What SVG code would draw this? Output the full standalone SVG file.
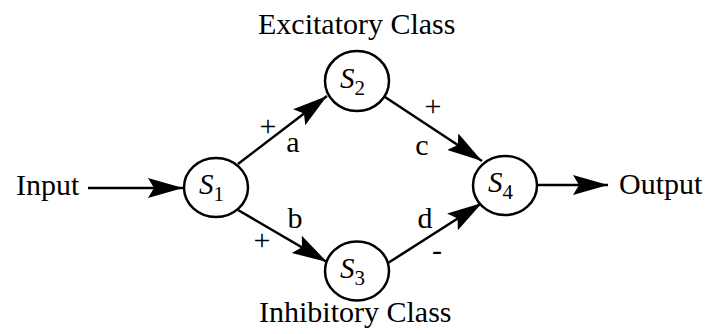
<svg xmlns="http://www.w3.org/2000/svg" width="711" height="334" viewBox="0 0 711 334">
<style>
.t{font-family:"Liberation Serif","Times New Roman",serif;font-size:30px;fill:#000}
.s{font-family:"Liberation Serif","Times New Roman",serif;font-style:italic;font-size:29px;fill:#000}
.sub{font-style:normal;font-size:21px}
.n{fill:#fff;stroke:#000;stroke-width:2.5}
.e{stroke:#000;stroke-width:2.5;fill:none;marker-end:url(#ah)}
</style>
<defs>
<marker id="ah" markerUnits="userSpaceOnUse" markerWidth="38" markerHeight="22" refX="35" refY="10" orient="auto">
<path d="M0,0 L35,10 L0,20 L6,10 Z" fill="#000"/>
</marker>
</defs>
<g id="connectors">
<line class="e" x1="88" y1="188" x2="183" y2="188"/>
<line class="e" x1="238" y1="164" x2="327" y2="96"/>
<line class="e" x1="238" y1="210" x2="327" y2="262"/>
<line class="e" x1="385" y1="97" x2="482" y2="161"/>
<line class="e" x1="388" y1="263" x2="482" y2="203"/>
<line class="e" x1="537" y1="185" x2="608" y2="185"/>
</g>
<g id="S1"><ellipse class="n" cx="216" cy="187.5" rx="32" ry="29.5"/><text class="s" x="199" y="194">S<tspan class="sub" dy="7">1</tspan></text></g>
<g id="S2"><ellipse class="n" cx="357" cy="81" rx="32" ry="30"/><text class="s" x="340" y="88">S<tspan class="sub" dy="7">2</tspan></text></g>
<g id="S3"><ellipse class="n" cx="357" cy="271" rx="32" ry="29.5"/><text class="s" x="340" y="278">S<tspan class="sub" dy="7">3</tspan></text></g>
<g id="S4"><ellipse class="n" cx="505" cy="185.5" rx="32" ry="29.5"/><text class="s" x="488" y="192">S<tspan class="sub" dy="7">4</tspan></text></g>
<g id="labels">
<text class="t" x="16" y="195">Input</text>
<text class="t" x="619" y="194">Output</text>
<text class="t" x="258" y="34">Excitatory Class</text>
<text class="t" x="259" y="322">Inhibitory Class</text>
<text class="t" x="268" y="136" text-anchor="middle">+</text>
<text class="t" x="293" y="152" text-anchor="middle">a</text>
<text class="t" x="433" y="116" text-anchor="middle">+</text>
<text class="t" x="422" y="155" text-anchor="middle">c</text>
<text class="t" x="262" y="250" text-anchor="middle">+</text>
<text class="t" x="295" y="228" text-anchor="middle">b</text>
<text class="t" x="425" y="228" text-anchor="middle">d</text>
<text class="t" x="437" y="260" text-anchor="middle">-</text>
</g>
</svg>
